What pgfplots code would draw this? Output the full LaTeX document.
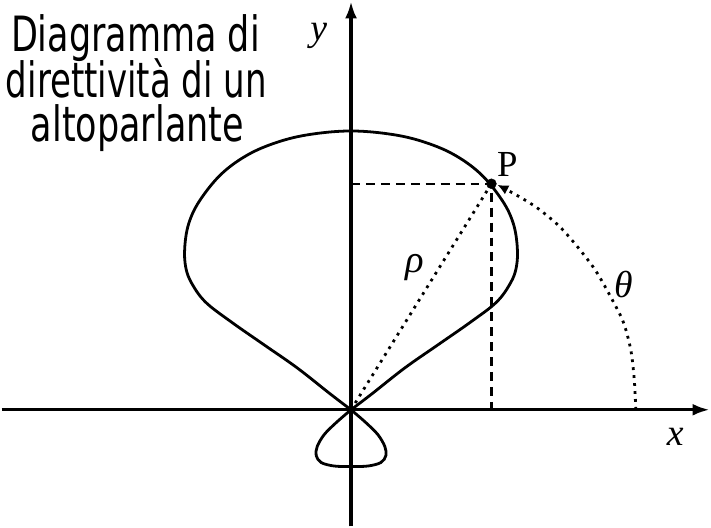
\documentclass[border=0pt]{standalone}
\usepackage{pgfplots}
\pgfplotsset{compat=1.18}
\usepackage{graphicx}
\usepackage{fontspec}
\usetikzlibrary{arrows.meta}
\newfontfamily\titlefont{DejaVu Sans}
\newfontfamily\serif{Liberation Serif}
\begin{document}
\begin{tikzpicture}
\begin{axis}[
  x=1bp, y=1bp,
  hide axis,
  xmin=-351, xmax=360, ymin=-117, ymax=410,
  clip=false,
]
% axes
\addplot[line width=3.1bp, -{Latex[length=17bp,width=12bp]}] coordinates {(-351,0) (360,0)};
\addplot[line width=3.1bp, -{Latex[length=17bp,width=12bp]}] coordinates {(0,-117) (0,410)};
% main lobe
\addplot[line width=2.8bp, smooth, tension=0.6] coordinates {
(0,0) (21,16) (54,42) (87,65) (120,88) (146,108) (160,127) (166,143) (167,163) (163,187) (152,210) (130,237) (102,257) (70,270) (38,277) (0,280)
(-38,277) (-70,270) (-102,257) (-130,237) (-152,210) (-163,187) (-167,163) (-166,143) (-160,127) (-146,108) (-120,88) (-87,65) (-54,42) (-21,16) (0,0)
};
% back lobe
\addplot[line width=2.8bp, smooth, tension=0.55] coordinates {
(0,0) (-15,-13) (-27,-25) (-34,-37) (-35,-46) (-30,-53) (-17,-56.5) (0,-57) (17,-56.5) (30,-53) (35,-46) (34,-37) (27,-25) (15,-13) (0,0)
};
% dashed projections
\addplot[line width=2.2bp, dash pattern=on 9bp off 6bp] coordinates {(0,227) (141,227) (141,0)};
% rho
\addplot[line width=2.8bp, dash pattern=on 2.8bp off 5.2bp] coordinates {(0,0) (141,227)};
% theta arc
\addplot[line width=2.8bp, dash pattern=on 2.8bp off 5.2bp, smooth, -{Latex[length=11bp,width=10bp]}] coordinates {
(286,0) (284.5,30) (281,60) (273.5,88) (261,113) (245.5,140) (228,163) (209.5,184) (188,202) (169,214) (147,226)
};
% point P
\addplot[only marks, mark=*, mark size=5bp, black] coordinates {(141,227)};
% labels
\node at (axis cs:-32.5,375) {\fontsize{38}{38}\serif\itshape y};
\node at (axis cs:325.5,-27) {\fontsize{38}{38}\serif\itshape x};
\node at (axis cs:157,246) {\fontsize{37}{37}\serif P};
\node at (axis cs:64.5,143) {\fontsize{39}{39}\serif\itshape ρ};
\node at (axis cs:273.5,126) {\fontsize{38}{38}\serif\itshape θ};
% title
\node[anchor=base, inner sep=0pt] at (axis cs:-216.5,360) {\scalebox{0.72}[1]{\fontsize{49}{49}\titlefont Diagramma di}};
\node[anchor=base, inner sep=0pt] at (axis cs:-215.5,314) {\scalebox{0.70}[1]{\fontsize{49}{49}\titlefont direttività di un}};
\node[anchor=base, inner sep=0pt] at (axis cs:-214.5,269) {\scalebox{0.72}[1]{\fontsize{49}{49}\titlefont altoparlante}};
\end{axis}
\end{tikzpicture}
\end{document}
